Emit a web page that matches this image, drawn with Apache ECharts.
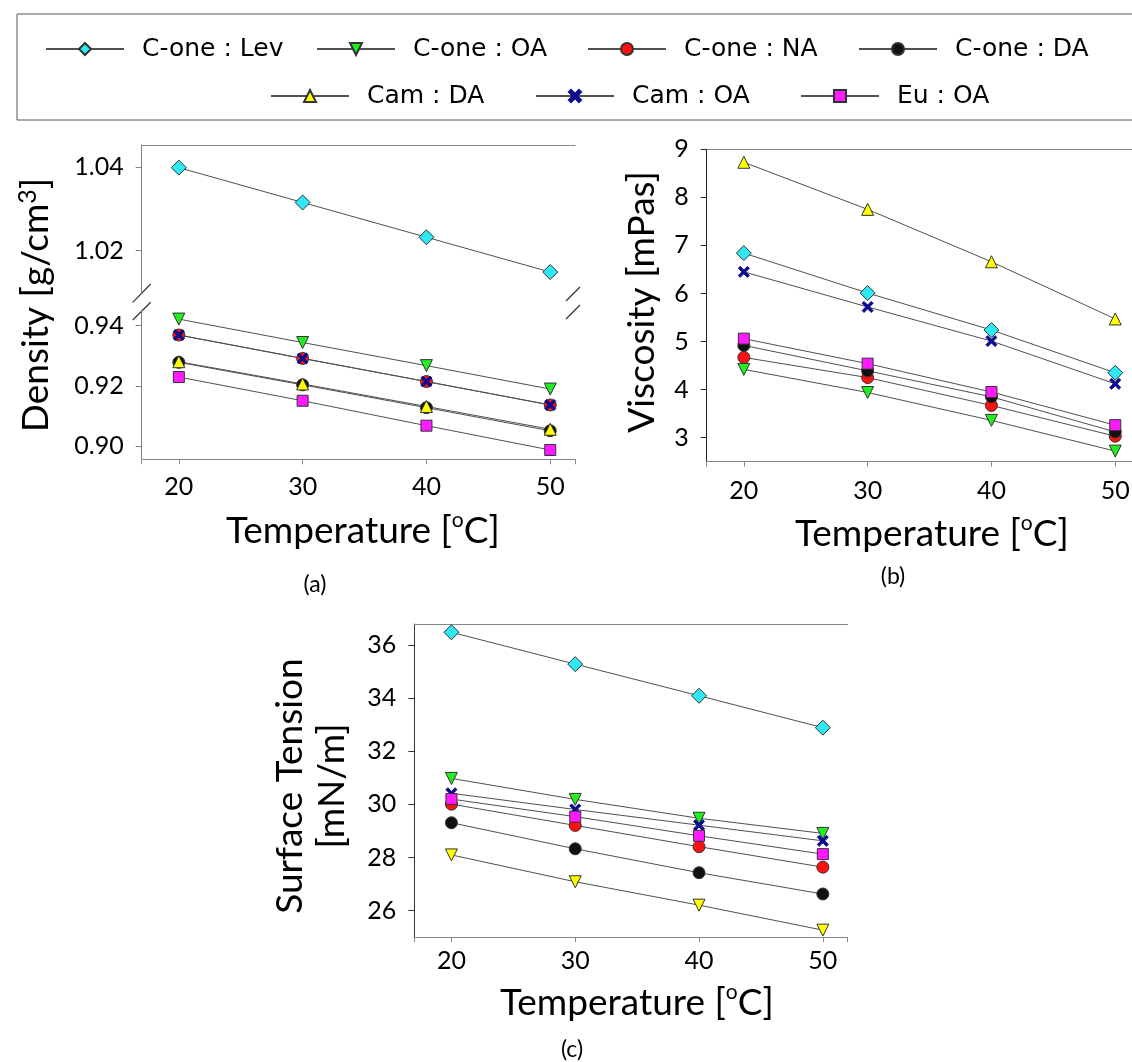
<!DOCTYPE html>
<html lang="en">
<head>
<meta charset="UTF-8">
<title>Density, viscosity and surface tension</title>
<script src="https://cdn.jsdelivr.net/npm/echarts@6/dist/echarts.min.js"></script>
<style>
    html, body { margin: 0; padding: 0; background: #fff; }
    #main { width: 1132px; height: 1062px; }
</style>
</head>
<body>
<div id="main"></div>
<script>
// temperatures [°C]
var temps = [20, 30, 40, 50];
var seriesNames = ['C-one : Lev', 'C-one : OA', 'C-one : NA', 'C-one : DA', 'Cam : DA', 'Cam : OA', 'Eu : OA'];

// (a) density [g/cm3]
var densLev   = [1.0398, 1.0315, 1.0232, 1.0149];
var densOneOA = [0.9422, 0.9344, 0.9267, 0.9189];
var densOneNA = [0.9369, 0.9291, 0.9214, 0.9136];
var densOneDA = [0.9278, 0.9203, 0.9127, 0.9050];
var densCamDA = [0.9280, 0.9206, 0.9131, 0.9055];
var densCamOA = [0.9369, 0.9291, 0.9214, 0.9136];
var densEuOA  = [0.9229, 0.9150, 0.9067, 0.8986];

// (b) viscosity [mPas]
var viscLev   = [6.84, 6.01, 5.24, 4.35];
var viscOneOA = [4.42, 3.94, 3.36, 2.72];
var viscOneNA = [4.67, 4.25, 3.67, 3.03];
var viscOneDA = [4.92, 4.39, 3.85, 3.12];
var viscCamDA = [8.73, 7.75, 6.66, 5.47];
var viscCamOA = [6.45, 5.72, 5.01, 4.12];
var viscEuOA  = [5.06, 4.54, 3.95, 3.26];

// (c) surface tension [mN/m]
var stLev   = [36.48, 35.28, 34.09, 32.89];
var stOneOA = [30.98, 30.19, 29.48, 28.91];
var stOneNA = [30.01, 29.21, 28.41, 27.64];
var stOneDA = [29.31, 28.33, 27.43, 26.63];
var stCamDA = [28.10, 27.09, 26.21, 25.27];
var stCamOA = [30.42, 29.81, 29.22, 28.63];
var stEuOA  = [30.20, 29.54, 28.82, 28.13];

// tick labels
var xTicks = [20, 30, 40, 50];
var xTickMarks = [17, 20, 30, 40, 50, 52];
var densUpperTicks = [1.02, 1.04];
var densLowerTicks = [0.90, 0.92, 0.94];
var viscTicks = [3, 4, 5, 6, 7, 8, 9];
var stTicks = [26, 28, 30, 32, 34, 36];

var FONT = 'Lato';
var X_PATH = 'path://M0,1.7L1.7,0L5,3.3L8.3,0L10,1.7L6.7,5L10,8.3L8.3,10L5,6.7L1.7,10L0,8.3L3.3,5Z';

// marker look per series
var markers = {
    'C-one : Lev': {symbol: 'diamond', size: 15, color: '#2ee8f4', rot: 0},
    'C-one : OA':  {symbol: 'triangle', size: 12, color: '#22ee22', rot: 180},
    'C-one : NA':  {symbol: 'circle', size: 12, color: '#ff1010', rot: 0},
    'C-one : DA':  {symbol: 'circle', size: 12, color: '#111111', rot: 0},
    'Cam : DA':    {symbol: 'triangle', size: 12, color: '#ffff00', rot: 0},
    'Cam : OA':    {symbol: X_PATH, size: 11, color: '#0c0c8c', rot: 0},
    'Eu : OA':     {symbol: 'rect', size: 11, color: '#ff1aff', rot: 0}
};

function mk(name, vals, xi, yi, rot) {
    var m = markers[name];
    return {
        name: name,
        type: 'line',
        xAxisIndex: xi,
        yAxisIndex: yi,
        data: temps.map(function (t, i) { return [t, vals[i]]; }),
        symbol: m.symbol,
        symbolSize: m.size,
        symbolRotate: rot === undefined ? m.rot : rot,
        showAllSymbol: true,
        lineStyle: {color: '#505050', width: 1},
        itemStyle: {
            color: m.color,
            borderColor: m.symbol === X_PATH ? m.color : '#333',
            borderWidth: 1,
            opacity: 1
        },
        emphasis: {disabled: true},
        animation: false
    };
}

function xAx(gi, margin) {
    return {
        type: 'value', gridIndex: gi, min: 17, max: 52,
        position: 'bottom',
        axisLine: {show: true, onZero: false, lineStyle: {color: '#888', width: 1}},
        axisTick: {show: true, inside: false, length: 5, customValues: xTickMarks, lineStyle: {color: '#888'}},
        axisLabel: {show: true, customValues: xTicks, margin: margin, fontFamily: FONT, fontSize: 25, color: '#000'},
        splitLine: {show: false}
    };
}
function topBorder(gi) {
    return {
        type: 'value', gridIndex: gi, min: 17, max: 52, position: 'top',
        axisLine: {show: true, onZero: false, lineStyle: {color: '#888', width: 1}},
        axisTick: {show: false}, axisLabel: {show: false}, splitLine: {show: false}
    };
}
function yAx(gi, min, max, ticks, color, fmt) {
    return {
        type: 'value', gridIndex: gi, min: min, max: max,
        axisLine: {show: true, onZero: false, lineStyle: {color: color, width: 1}},
        axisTick: {show: true, inside: false, length: 6, customValues: ticks, lineStyle: {color: color}},
        axisLabel: {show: true, customValues: ticks, margin: 18, fontFamily: FONT, fontSize: 25, color: '#000',
            formatter: fmt || function (v) { return String(v); }},
        splitLine: {show: false}
    };
}

var titleRich = {
    m: {fontFamily: FONT, fontSize: 37, lineHeight: 42, color: '#000'},
    s: {fontFamily: FONT, fontSize: 25, lineHeight: 25, color: '#000', verticalAlign: 'top'},
    o: {fontFamily: FONT, fontSize: 21, lineHeight: 21, color: '#000', verticalAlign: 'top'}
};
function title(x, y, text, rot, align) {
    return {
        type: 'text', x: x, y: y, rotation: rot ? Math.PI / 2 : 0, silent: true,
        style: {
            text: text, rich: titleRich,
            align: align || 'center', verticalAlign: 'middle',
            textAlign: align || 'center', textVerticalAlign: 'middle'
        }
    };
}
function brk(x1, y1, x2, y2) {
    return {type: 'line', silent: true, shape: {x1: x1, y1: y1, x2: x2, y2: y2},
        style: {stroke: '#333', lineWidth: 1.2}};
}
function panel(x, y, t) {
    return {type: 'text', x: x, y: y, silent: true,
        style: {text: t, fontFamily: FONT, fontSize: 23, fill: '#000',
            align: 'center', verticalAlign: 'middle', textAlign: 'center', textVerticalAlign: 'middle'}};
}

var legendText = {fontFamily: 'DejaVu Sans', fontSize: 25, color: '#000', padding: [0, 0, 0, 13], lineHeight: 30};

var chart = echarts.init(document.getElementById('main'));
var option = {
    backgroundColor: '#fff',
    animation: false,
    legend: [
        {data: seriesNames.slice(0, 4), left: 45, top: 34, padding: 0, itemWidth: 78, itemHeight: 15, itemGap: 24,
            selectedMode: false, textStyle: Object.assign({width: 150}, legendText)},
        {data: seriesNames.slice(4), left: 270, top: 81, padding: 0, itemWidth: 78, itemHeight: 15, itemGap: 24,
            selectedMode: false, textStyle: Object.assign({width: 144}, legendText)}
    ],
    grid: [
        {left: 141.7, top: 145, width: 433.3, height: 148, outerBoundsMode: 'none'},
        {left: 141.7, top: 311, width: 433.3, height: 148.3, outerBoundsMode: 'none'},
        {left: 706.7, top: 149.3, width: 433.3, height: 312.4, outerBoundsMode: 'none'},
        {left: 414.3, top: 624, width: 433.3, height: 313.3, outerBoundsMode: 'none'}
    ],
    xAxis: [
        topBorder(0),
        xAx(1, 15),
        xAx(2, 17),
        topBorder(2),
        xAx(3, 11),
        topBorder(3)
    ],
    yAxis: [
        yAx(0, 1.0099, 1.0452, densUpperTicks, '#808080', function (v) { return v.toFixed(2); }),
        yAx(1, 0.8955, 0.9449, densLowerTicks, '#808080', function (v) { return v.toFixed(2); }),
        yAx(2, 2.5, 9, viscTicks, '#222'),
        yAx(3, 25, 36.79, stTicks, '#333')
    ],
    series: [
        mk('C-one : Lev', densLev, 0, 0),
        mk('C-one : OA', densOneOA, 1, 1),
        mk('C-one : NA', densOneNA, 1, 1),
        mk('C-one : DA', densOneDA, 1, 1),
        mk('Cam : DA', densCamDA, 1, 1),
        mk('Cam : OA', densCamOA, 1, 1),
        mk('Eu : OA', densEuOA, 1, 1),

        mk('C-one : Lev', viscLev, 2, 2),
        mk('C-one : OA', viscOneOA, 2, 2),
        mk('C-one : NA', viscOneNA, 2, 2),
        mk('C-one : DA', viscOneDA, 2, 2),
        mk('Cam : DA', viscCamDA, 2, 2),
        mk('Cam : OA', viscCamOA, 2, 2),
        mk('Eu : OA', viscEuOA, 2, 2),

        mk('C-one : Lev', stLev, 4, 3),
        mk('C-one : OA', stOneOA, 4, 3),
        mk('C-one : NA', stOneNA, 4, 3),
        mk('C-one : DA', stOneDA, 4, 3),
        mk('Cam : DA', stCamDA, 4, 3, 180),
        mk('Cam : OA', stCamOA, 4, 3),
        mk('Eu : OA', stEuOA, 4, 3)
    ],
    graphic: [
        {type: 'rect', silent: true, shape: {x: 17, y: 14, width: 1130, height: 106},
            style: {fill: 'none', stroke: '#555', lineWidth: 1}},
        brk(132.7, 302.3, 150.7, 284),
        brk(132.7, 320, 150.7, 302.3),
        brk(566, 301, 580, 287),
        brk(566, 319, 580, 305),
        title(36, 305, '{m|Density [g/cm}{s|3}{m|]}', true),
        title(642, 302, '{m|Viscosity [mPas]}', true),
        title(311.5, 786, '{m|Surface Tension}\n{m|[mN/m]}', true),
        title(226, 531, '{m|Temperature [}{o|o}{m|C]}', false, 'left'),
        title(795, 534, '{m|Temperature [}{o|o}{m|C]}', false, 'left'),
        title(500, 1003, '{m|Temperature [}{o|o}{m|C]}', false, 'left'),
        panel(315, 585, '(a)'),
        panel(893, 577, '(b)'),
        panel(572, 1050, '(c)')
    ]
};
chart.setOption(option);
</script>
</body>
</html>
